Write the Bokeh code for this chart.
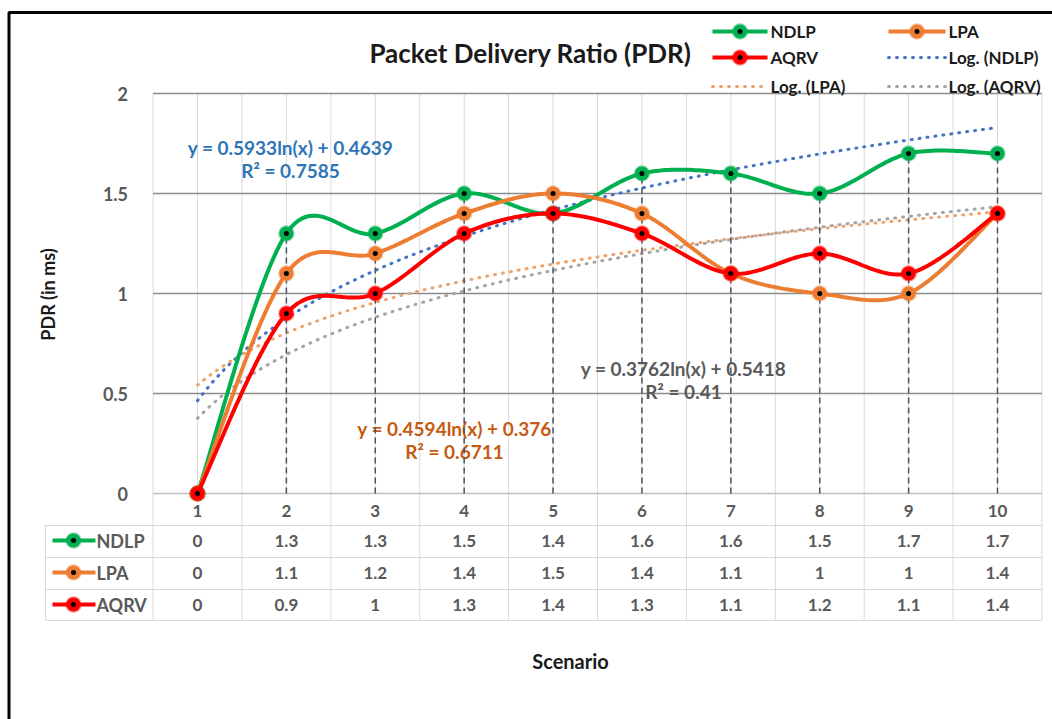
import numpy as np
from bokeh.plotting import figure
from bokeh.models import LinearAxis, FixedTicker, Range1d, NumeralTickFormatter, Grid
from bokeh.core.properties import value
from bokeh.embed import file_html
from bokeh.resources import INLINE

# ---------------- data ----------------
scenarios = [1, 2, 3, 4, 5, 6, 7, 8, 9, 10]
ndlp = [0, 1.3, 1.3, 1.5, 1.4, 1.6, 1.6, 1.5, 1.7, 1.7]
lpa = [0, 1.1, 1.2, 1.4, 1.5, 1.4, 1.1, 1, 1, 1.4]
aqrv = [0, 0.9, 1, 1.3, 1.4, 1.3, 1.1, 1.2, 1.1, 1.4]
series_names = ["NDLP", "LPA", "AQRV"]
y_ticks = [0, 0.5, 1, 1.5, 2]
title_text = "Packet Delivery Ratio (PDR)"
x_title = "Scenario"
y_title = "PDR (in ms)"
trend_names = ["Log. (NDLP)", "Log. (LPA)", "Log. (AQRV)"]
eq_ndlp = ["y = 0.5933ln(x) + 0.4639", "R\u00b2 = 0.7585"]
eq_gray = ["y = 0.3762ln(x) + 0.5418", "R\u00b2 = 0.41"]
eq_orange = ["y = 0.4594ln(x) + 0.376", "R\u00b2 = 0.6711"]

# ---------------- style ----------------
C_NDLP, C_LPA, C_AQRV = "#00b050", "#ed7d31", "#ff0000"
T_NDLP, T_LPA, T_AQRV = "#4472c4", "#eda36c", "#a5a5a5"
FONT = value("Lato")
GRAY_TXT = "#595959"

W, H = 1052, 719
OX, OY = 0, 0          # screen position of canvas origin
X0, DX = 197.0, 800.0 / 9.0
Y0, DY = 493.0, 200.0


def dx(px):
    return 1 + (px - X0) / DX


def dy(py):
    return (Y0 - py) / DY


p = figure(width=W, height=H, x_range=Range1d(dx(OX), dx(OX + W)),
           y_range=Range1d(dy(OY + H), dy(OY)), output_backend="svg",
           toolbar_location=None, x_axis_location=None, y_axis_location=None,
           min_border=0, outline_line_color=None, background_fill_color="white")
for r in list(p.center):
    if isinstance(r, Grid):
        r.visible = False

# frame border (left and top)
p.line([dx(8.5), dx(8.5), dx(OX + W)], [dy(OY + H), dy(12), dy(12)],
       line_color="black", line_width=3)

# ---------------- grid ----------------
half = [0.5 + 0.5 * i for i in range(21)]
p.segment(x0=half, y0=[0] * len(half), x1=half, y1=[2] * len(half),
          line_color="#d9d9d9", line_width=1)
bounds = [0.5 + i for i in range(11)]
p.segment(x0=bounds, y0=[0] * len(bounds), x1=bounds, y1=[dy(620)] * len(bounds),
          line_color="#d9d9d9", line_width=1)
p.segment(x0=[dx(45)], y0=[dy(525)], x1=[dx(45)], y1=[dy(620)],
          line_color="#d9d9d9", line_width=1)
rows_y = [dy(525), dy(557), dy(589), dy(620)]
p.segment(x0=[dx(45)] * 4, y0=rows_y, x1=[10.5] * 4, y1=rows_y,
          line_color="#d9d9d9", line_width=1)
hg = [t for t in y_ticks if t > 0]
p.segment(x0=[0.5] * len(hg), y0=hg, x1=[10.5] * len(hg), y1=hg,
          line_color="#8c8c8c", line_width=1.5)
p.segment(x0=[0.5], y0=[0], x1=[10.5], y1=[0], line_color="#bfbfbf", line_width=1.5)

# ---------------- axes ----------------
xaxis = LinearAxis(fixed_location=0, ticker=FixedTicker(ticks=scenarios),
                   axis_line_color=None, major_tick_line_color=None,
                   minor_tick_line_color=None, major_label_standoff=5,
                   major_label_text_font="Lato", major_label_text_font_style="bold",
                   major_label_text_font_size="17px", major_label_text_color=GRAY_TXT)
p.add_layout(xaxis, "below")
yaxis = LinearAxis(fixed_location=0.5, ticker=FixedTicker(ticks=y_ticks),
                   formatter=NumeralTickFormatter(format="0.[0]"),
                   axis_line_color=None, major_tick_line_color=None,
                   minor_tick_line_color=None, major_label_standoff=19,
                   major_label_text_font="Lato", major_label_text_font_style="bold",
                   major_label_text_font_size="18px", major_label_text_color=GRAY_TXT)
p.add_layout(yaxis, "left")

# ---------------- texts ----------------
p.text(x=[dx(530)], y=[dy(52)], text=[title_text], text_font=FONT, text_font_style="bold",
       text_font_size="26px", text_color="#1a1a1a", text_align="center", text_baseline="middle")
p.text(x=[dx(570)], y=[dy(660)], text=[x_title], text_font=FONT, text_font_style="bold",
       text_font_size="20px", text_color="#1a1a1a", text_align="center", text_baseline="middle")
p.text(x=[dx(47)], y=[dy(294)], text=[y_title], angle=np.pi / 2, text_font=FONT,
       text_font_style="bold", text_font_size="18px", text_color="#1a1a1a",
       text_align="center", text_baseline="middle")

for lines, cx, cy, col in [(eq_ndlp, 290, 147, "#2e75b6"), (eq_gray, 683, 368, "#595959"),
                           (eq_orange, 454, 428, "#c55a11")]:
    p.text(x=[dx(cx)] * 2, y=[dy(cy), dy(cy + 23)], text=lines, text_font=FONT,
           text_font_style="bold", text_font_size="19px", text_color=col,
           text_align="center", text_baseline="middle")

# ---------------- trendlines ----------------
xx = np.linspace(1, 10, 200)
lx = np.log(np.array(scenarios, dtype=float))
for ys, col in [(ndlp, T_NDLP), (lpa, T_LPA), (aqrv, T_AQRV)]:
    a, b = np.polyfit(lx, np.array(ys, dtype=float), 1)
    p.line(xx, a * np.log(xx) + b, line_color=col, line_width=3,
           line_dash="1 7", line_cap="round")

# ---------------- drop lines ----------------
tops = [max(v) for v in zip(ndlp, lpa, aqrv)]
p.segment(x0=scenarios, y0=[0] * len(scenarios), x1=scenarios, y1=tops,
          line_color="#44546a", line_width=1.5, line_dash="6 4")


# ---------------- series ----------------
def smooth(xs, ys, n=30):
    pts = list(zip(xs, ys))
    N = len(pts)
    ox, oy = [], []
    for i in range(N - 1):
        p0 = pts[i - 1] if i > 0 else pts[i]
        p1 = pts[i]
        p2 = pts[i + 1]
        p3 = pts[i + 2] if i + 2 < N else pts[i + 1]
        c1 = (p1[0] + (p2[0] - p0[0]) / 6, p1[1] + (p2[1] - p0[1]) / 6)
        c2 = (p2[0] - (p3[0] - p1[0]) / 6, p2[1] - (p3[1] - p1[1]) / 6)
        for t in np.linspace(0, 1, n, endpoint=(i == N - 2)):
            m = 1 - t
            ox.append(m ** 3 * p1[0] + 3 * m * m * t * c1[0] + 3 * m * t * t * c2[0] + t ** 3 * p2[0])
            oy.append(m ** 3 * p1[1] + 3 * m * m * t * c1[1] + 3 * m * t * t * c2[1] + t ** 3 * p2[1])
    return ox, oy


def marker(x, y, col):
    p.scatter(x, y, size=14, fill_color=col, line_color=col, line_alpha=0.45, line_width=2.5)
    p.scatter(x, y, size=5, fill_color="black", line_color=None)


for ys, col in [(ndlp, C_NDLP), (lpa, C_LPA), (aqrv, C_AQRV)]:
    sx, sy = smooth(scenarios, ys)
    p.line(sx, sy, line_color=col, line_width=4)
    marker(scenarios, ys, col)

# ---------------- table ----------------
row_py = [540, 572, 604]
for ys, py, name, col in zip([ndlp, lpa, aqrv], row_py, series_names, [C_NDLP, C_LPA, C_AQRV]):
    p.text(x=scenarios, y=[dy(py)] * len(scenarios), text=[f"{v:g}" for v in ys],
           text_font=FONT, text_font_style="bold", text_font_size="17px",
           text_color=GRAY_TXT, text_align="center", text_baseline="middle")
    p.line([dx(52), dx(95)], [dy(py), dy(py)], line_color=col, line_width=4)
    marker([dx(73)], [dy(py)], col)
    p.text(x=[dx(96)], y=[dy(py)], text=[name], text_font=FONT, text_font_style="bold",
           text_font_size="18px", text_color=GRAY_TXT, text_align="left", text_baseline="middle")

# ---------------- legend ----------------
leg_rows = [31, 57, 86]
leg_items = [(series_names[0], C_NDLP, "s"), (series_names[1], C_LPA, "s"),
             (series_names[2], C_AQRV, "s"), (trend_names[0], T_NDLP, "t"),
             (trend_names[1], T_LPA, "t"), (trend_names[2], T_AQRV, "t")]
col_x = [(712, 767, 770), (888, 945, 948)]
for k, (name, col, kind) in enumerate(leg_items):
    r, c = divmod(k, 2)
    x_a, x_b, x_t = col_x[c]
    py = leg_rows[r]
    if kind == "s":
        p.line([dx(x_a), dx(x_b)], [dy(py), dy(py)], line_color=col, line_width=4)
        marker([dx((x_a + x_b) / 2)], [dy(py)], col)
    else:
        p.line([dx(x_a), dx(x_b)], [dy(py), dy(py)], line_color=col, line_width=3,
               line_dash="1 7", line_cap="round")
    p.text(x=[dx(x_t)], y=[dy(py)], text=[name], text_font=FONT, text_font_style="bold",
           text_font_size="17px", text_color="#1a1a1a", text_align="left", text_baseline="middle")

open("out.html", "w").write(file_html(p, INLINE))
